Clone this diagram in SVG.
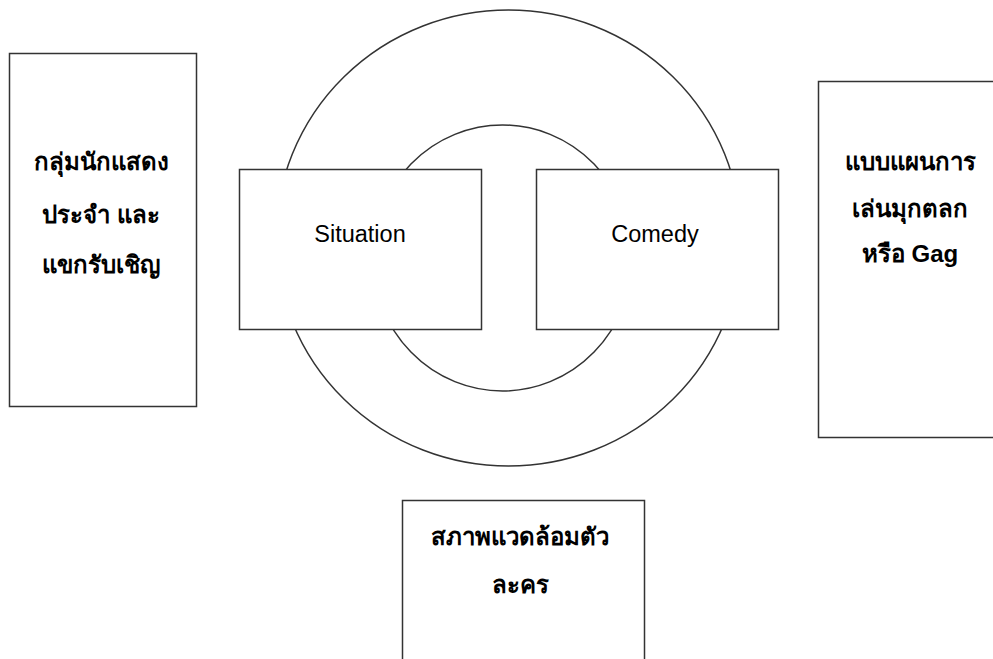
<svg xmlns="http://www.w3.org/2000/svg" width="993" height="659" viewBox="0 0 993 659">
<style>
.shape{fill:none;stroke:#333;stroke-width:1.5}
.box{fill:#fff;stroke:#333;stroke-width:1.5}
.th{font-family:"Liberation Sans","Noto Sans",sans-serif;font-size:24px;font-weight:bold;fill:#000;text-anchor:middle}
.en{font-family:"Liberation Sans",Arial,sans-serif;font-size:23.5px;fill:#000;text-anchor:middle}
</style>
<rect width="993" height="659" fill="#fff"/>
<g id="rings">
<ellipse class="shape" cx="508.5" cy="238" rx="232.5" ry="228"/>
<ellipse class="shape" cx="502.5" cy="258" rx="129.5" ry="133"/>
</g>
<g id="connectors"></g>
<g id="node-left">
<rect class="box" x="9.5" y="53.5" width="187" height="353"/>
<text class="th" x="101" y="170">กลุ่มนักแสดง</text>
<text class="th" x="101" y="223">ประจำ และ</text>
<text class="th" x="101" y="273">แขกรับเชิญ</text>
</g>
<g id="node-situation">
<rect class="box" x="239.5" y="169.5" width="242" height="160"/>
<text class="en" x="360" y="242">Situation</text>
</g>
<g id="node-comedy">
<rect class="box" x="536.5" y="169.5" width="242" height="160"/>
<text class="en" x="655" y="242">Comedy</text>
</g>
<g id="node-right">
<rect class="box" x="818.5" y="81.5" width="200" height="356"/>
<text class="th" x="910" y="170">แบบแผนการ</text>
<text class="th" x="910" y="217">เล่นมุกตลก</text>
<text class="th" x="910" y="262">หรือ Gag</text>
</g>
<g id="node-bottom">
<rect class="box" x="402.5" y="500.5" width="242" height="180"/>
<text class="th" x="520" y="545">สภาพแวดล้อมตัว</text>
<text class="th" x="520" y="593">ละคร</text>
</g>
</svg>
